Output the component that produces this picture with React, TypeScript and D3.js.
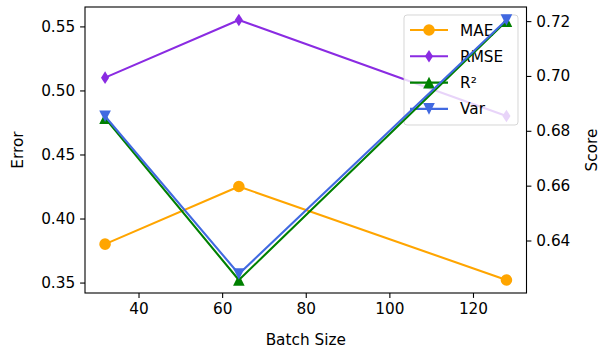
import { useEffect, useRef } from 'react'
import * as d3 from 'd3'

const batchSizes = [32, 64, 128]
const maeValues = [0.38, 0.425, 0.352]
const rmseValues = [0.51, 0.555, 0.48]
const r2Values = [0.6846, 0.6256, 0.72]
const varValues = [0.6853, 0.6278, 0.7204]

const xTicks = [40, 60, 80, 100, 120]
const errorTicks = [0.35, 0.4, 0.45, 0.5, 0.55]
const scoreTicks = [0.64, 0.66, 0.68, 0.7, 0.72]

const W = 603
const H = 354
const FONT = 'DejaVu Sans, sans-serif'
const FS = 15.3

export default function App() {
  const svgRef = useRef<SVGSVGElement>(null)

  useEffect(() => {
    const svg = d3.select(svgRef.current)
    svg.selectAll('*').remove()

    const left = 85, right = 526.5, top = 7, bottom = 293

    // matplotlib-ish 5% margins
    const pad = (vals: number[]) => {
      const lo = d3.min(vals)!, hi = d3.max(vals)!
      const m = (hi - lo) * 0.05
      return [lo - m, hi + m]
    }

    const x = d3.scaleLinear().domain(pad(batchSizes)).range([left, right])
    const yErr = d3.scaleLinear().domain(pad([...maeValues, ...rmseValues])).range([bottom, top])
    const yScore = d3.scaleLinear().domain(pad([...r2Values, ...varValues])).range([bottom, top])

    svg.append('rect').attr('width', W).attr('height', H).attr('fill', '#fff')

    const clip = svg.append('defs').append('clipPath').attr('id', 'plot')
    clip.append('rect').attr('x', left - 8).attr('y', top - 8).attr('width', right - left + 16).attr('height', bottom - top + 16)

    const symbolPath = (kind: string) => {
      const s = 5.8
      if (kind === 'circle') return d3.symbol(d3.symbolCircle, Math.PI * s * s)()!
      if (kind === 'diamond') return `M0,${-s - 0.5} L${s * 0.7},0 L0,${s + 0.5} L${-s * 0.7},0 Z`
      if (kind === 'up') return `M0,${-s} L${s},${s} L${-s},${s} Z`
      return `M0,${s} L${s},${-s} L${-s},${-s} Z`
    }

    const series = [
      { name: 'MAE', values: maeValues, y: yErr, color: '#FFA500', marker: 'circle' },
      { name: 'RMSE', values: rmseValues, y: yErr, color: '#8A2BE2', marker: 'diamond' },
      { name: 'R²', values: r2Values, y: yScore, color: '#008000', marker: 'up' },
      { name: 'Var', values: varValues, y: yScore, color: '#4169E1', marker: 'down' },
    ]

    const drawSeries = (s: typeof series[number]) => {
      const g = svg.append('g').attr('clip-path', 'url(#plot)')
      const line = d3.line<number>().x((_, i) => x(batchSizes[i])).y((d) => s.y(d))
      g.append('path').attr('d', line(s.values)).attr('fill', 'none')
        .attr('stroke', s.color).attr('stroke-width', 2.1).attr('stroke-linejoin', 'round')
      g.selectAll('path.m').data(s.values).join('path').attr('class', 'm')
        .attr('d', symbolPath(s.marker))
        .attr('transform', (d, i) => `translate(${x(batchSizes[i])},${s.y(d)})`)
        .attr('fill', s.color)
    }

    // left axis series
    drawSeries(series[0])
    drawSeries(series[1])

    // legend (belongs to left axis)
    const lg = svg.append('g')
    const lx = 404, ly = 15, lw = 114, lh = 110
    lg.append('rect').attr('x', lx).attr('y', ly).attr('width', lw).attr('height', lh)
      .attr('rx', 3).attr('fill', '#fff').attr('fill-opacity', 0.8)
      .attr('stroke', '#cccccc').attr('stroke-opacity', 0.8).attr('stroke-width', 1)
    series.forEach((s, i) => {
      const cy = ly + 15 + i * 26.3
      lg.append('line').attr('x1', lx + 6).attr('x2', lx + 44).attr('y1', cy).attr('y2', cy)
        .attr('stroke', s.color).attr('stroke-width', 2.1)
      lg.append('path').attr('d', symbolPath(s.marker))
        .attr('transform', `translate(${lx + 25},${cy})`).attr('fill', s.color)
      lg.append('text').attr('x', lx + 56).attr('y', cy + 5.5)
        .attr('font-family', FONT).attr('font-size', FS).attr('fill', '#000').text(s.name)
    })

    // right axis series
    drawSeries(series[2])
    drawSeries(series[3])

    // frame
    svg.append('rect').attr('x', left).attr('y', top).attr('width', right - left).attr('height', bottom - top)
      .attr('fill', 'none').attr('stroke', '#000').attr('stroke-width', 1.1)

    const tickStyle = (g: d3.Selection<SVGGElement, unknown, null, undefined>) => {
      g.select('.domain').remove()
      g.selectAll('line').attr('stroke', '#000').attr('stroke-width', 1.1)
      g.selectAll('text').attr('font-family', FONT).attr('font-size', FS).attr('fill', '#000')
    }

    svg.append('g').attr('transform', `translate(0,${bottom})`)
      .call(d3.axisBottom(x).tickValues(xTicks).tickSize(4.9).tickPadding(4.9).tickFormat(d3.format('d')))
      .call(tickStyle)
    svg.append('g').attr('transform', `translate(${left},0)`)
      .call(d3.axisLeft(yErr).tickValues(errorTicks).tickSize(4.9).tickPadding(4.9).tickFormat(d3.format('.2f')))
      .call(tickStyle)
    svg.append('g').attr('transform', `translate(${right},0)`)
      .call(d3.axisRight(yScore).tickValues(scoreTicks).tickSize(4.9).tickPadding(4.9).tickFormat(d3.format('.2f')))
      .call(tickStyle)

    svg.append('text').attr('x', (left + right) / 2).attr('y', 345)
      .attr('text-anchor', 'middle').attr('font-family', FONT).attr('font-size', FS).text('Batch Size')
    svg.append('text').attr('transform', `translate(23,${(top + bottom) / 2}) rotate(-90)`)
      .attr('text-anchor', 'middle').attr('font-family', FONT).attr('font-size', FS).text('Error')
    svg.append('text').attr('transform', `translate(597,${(top + bottom) / 2}) rotate(-90)`)
      .attr('text-anchor', 'middle').attr('font-family', FONT).attr('font-size', FS).text('Score')
  }, [])

  return (
    <svg ref={svgRef} width={W} height={H}
      style={{ position: 'absolute', left: 0, top: 0, display: 'block' }} />
  )
}
